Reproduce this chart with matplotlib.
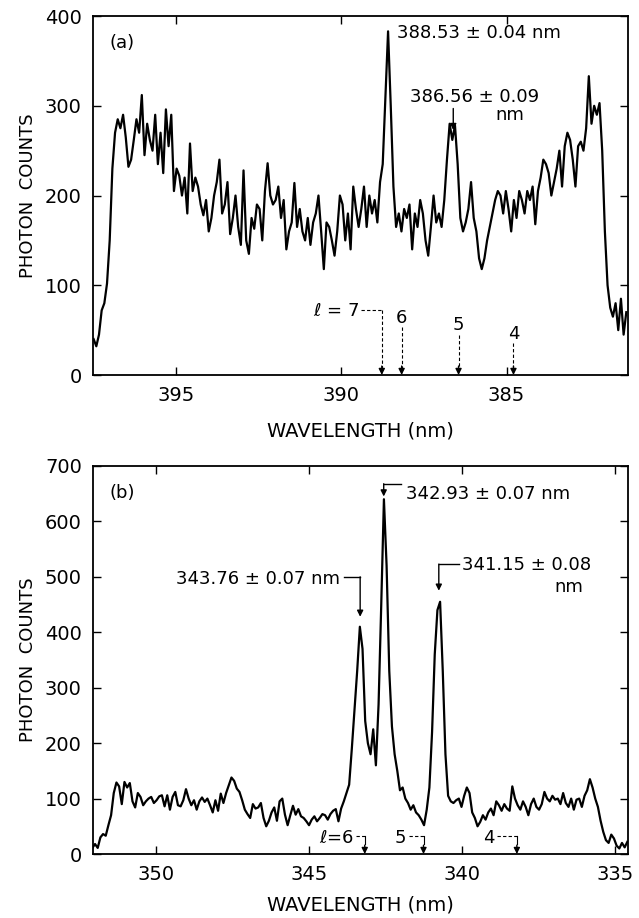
import numpy as np
import matplotlib
matplotlib.use('Agg')
import matplotlib.pyplot as plt

# ---- panel (a): 397.5 - 381.3 nm ----
wl_a_range = (397.48, 381.38)
counts_a = [40, 32, 45, 72, 80, 102, 150, 230, 270, 285, 275, 290, 265, 232, 240, 262, 285, 270, 312, 245,
            280, 262, 250, 290, 235, 270, 225, 296, 255, 290, 205, 230, 222, 200, 220, 180, 258, 205, 220, 210,
            190, 178, 195, 160, 175, 200, 215, 240, 180, 190, 215, 157, 175, 200, 165, 145, 228, 150, 135, 175,
            163, 190, 185, 150, 205, 236, 200, 190, 195, 210, 175, 195, 140, 160, 170, 214, 165, 185, 160, 150,
            175, 145, 170, 180, 200, 160, 118, 170, 165, 150, 133, 160, 200, 190, 150, 180, 140, 210, 185, 165,
            185, 210, 165, 200, 180, 195, 170, 215, 235, 310, 383, 300, 210, 165, 180, 160, 185, 175, 190, 140,
            180, 165, 195, 180, 150, 133, 165, 200, 170, 180, 165, 195, 240, 280, 262, 278, 235, 175, 160, 170,
            185, 215, 175, 160, 130, 118, 130, 150, 165, 180, 195, 205, 200, 180, 205, 185, 160, 195, 175, 205,
            195, 180, 205, 195, 210, 168, 205, 220, 240, 235, 225, 200, 215, 230, 250, 210, 255, 270, 262, 240,
            210, 255, 260, 250, 275, 333, 280, 300, 290, 303, 250, 160, 100, 75, 65, 80, 50, 85, 45, 70]
xlim_a = (397.5, 381.33)
xticks_a = [395, 390, 385]
yticks_a = [0, 100, 200, 300, 400]

# ---- panel (b): 352.1 - 334.6 nm ----
wl_b_range = (352.08, 334.6)
counts_b = [11, 18, 11, 30, 36, 33, 52, 70, 110, 129, 122, 90, 130, 120, 128, 95, 84, 110, 103, 88,
            95, 100, 103, 92, 97, 104, 106, 86, 106, 80, 103, 112, 88, 86, 97, 117, 100, 88, 97, 80,
            95, 102, 94, 100, 88, 75, 97, 78, 109, 92, 110, 124, 138, 132, 118, 112, 97, 80, 72, 65,
            90, 82, 84, 92, 65, 50, 60, 75, 84, 60, 95, 100, 71, 52, 70, 87, 71, 81, 68, 65,
            59, 52, 62, 68, 59, 65, 72, 70, 62, 72, 78, 81, 59, 82, 95, 110, 125, 190, 260, 330,
            410, 370, 240, 200, 180, 225, 160, 270, 450, 640, 520, 330, 230, 180, 150, 115, 120, 100, 92, 80,
            88, 75, 70, 62, 52, 80, 120, 220, 360, 440, 455, 330, 180, 105, 95, 92, 97, 100, 85, 105,
            120, 110, 75, 65, 50, 58, 70, 62, 75, 82, 70, 95, 88, 78, 90, 82, 78, 122, 100, 88,
            80, 95, 85, 70, 90, 100, 85, 80, 90, 112, 100, 95, 105, 98, 100, 90, 110, 92, 85, 100,
            80, 98, 100, 85, 105, 115, 135, 120, 100, 85, 60, 40, 25, 20, 35, 28, 15, 10, 20, 12, 22]
xlim_b = (352.06, 334.58)
xticks_b = [350, 345, 340, 335]
yticks_b = [0, 100, 200, 300, 400, 500, 600, 700]

# ell markers: (label, wavelength)
ell_a = [('7', 388.77), ('6', 388.17), ('5', 386.45), ('4', 384.79)]
ell_b = [('6', 343.18), ('5', 341.26), ('4', 338.21)]

plt.rcParams['font.family'] = 'DejaVu Sans'
fig = plt.figure(figsize=(6.39, 9.18), dpi=100)
ax1 = fig.add_axes([0.1455, 0.5915, 0.8372, 0.391])
ax2 = fig.add_axes([0.1455, 0.0697, 0.8372, 0.4227])

wl_a = np.linspace(wl_a_range[0], wl_a_range[1], len(counts_a))
wl_b = np.linspace(wl_b_range[0], wl_b_range[1], len(counts_b))
ax1.plot(wl_a, counts_a, color='k', lw=1.6)
ax2.plot(wl_b, counts_b, color='k', lw=1.6)

for ax, xl, xt, yt, yl, lp in [(ax1, xlim_a, xticks_a, yticks_a, 400, 12),
                               (ax2, xlim_b, xticks_b, yticks_b, 700, 8)]:
    ax.set_xlim(*xl)
    ax.set_ylim(0, yl)
    ax.set_xticks(xt)
    ax.set_yticks(yt)
    ax.tick_params(direction='in', top=True, right=True, length=6, width=1, labelsize=14, pad=8)
    ax.set_xlabel('WAVELENGTH (nm)', fontsize=14, labelpad=lp)
    ax.set_ylabel('PHOTON  COUNTS', fontsize=13, labelpad=6)
    for s in ax.spines.values():
        s.set_linewidth(1.3)

ax1.text(0.03, 0.925, '(a)', transform=ax1.transAxes, fontsize=13, va='center')
ax2.text(0.03, 0.93, '(b)', transform=ax2.transAxes, fontsize=13, va='center')

head = dict(arrowstyle='-|>', color='k', lw=1.0, mutation_scale=9, shrinkA=0, shrinkB=0)

# panel (a) peak labels
ax1.text(388.31, 381, '388.53 \u00b1 0.04 nm', fontsize=13, va='center', ha='left')
ax1.text(387.93, 310, '386.56 \u00b1 0.09', fontsize=13, va='center', ha='left')
ax1.text(384.91, 290, 'nm', fontsize=13, va='center', ha='center')
ax1.annotate('', xy=(386.61, 273), xytext=(386.61, 297), arrowprops=head)

# panel (a) ell markers
ell_y_a = {'7': (71, 72), '6': (63, 54), '5': (56, 45), '4': (46, 36)}
for lab, w in ell_a:
    ty, ly = ell_y_a[lab]
    if lab == '7':
        ax1.text(389.44, ty, '$\\ell$ = 7', fontsize=13, va='center', ha='right')
        ax1.plot([389.4, w], [ly, ly], color='k', lw=0.8, ls=(0, (3, 2)))
    else:
        ax1.text(w, ty, lab, fontsize=13, va='center', ha='center')
    ax1.plot([w, w], [ly, 8], color='k', lw=0.8, ls=(0, (3, 2)))
    ax1.annotate('', xy=(w, 0), xytext=(w, 10), arrowprops=head)

# panel (b) peak labels
ax2.text(341.82, 650, '342.93 \u00b1 0.07 nm', fontsize=13, va='center', ha='left')
ax2.plot([342.56, 342.0], [668, 668], color='k', lw=1)
ax2.annotate('', xy=(342.56, 645), xytext=(342.56, 668), arrowprops=head)

ax2.text(340.0, 521, '341.15 \u00b1 0.08', fontsize=13, va='center', ha='left')
ax2.text(336.5, 481, 'nm', fontsize=13, va='center', ha='center')
ax2.plot([340.76, 340.1], [523, 523], color='k', lw=1)
ax2.annotate('', xy=(340.76, 475), xytext=(340.76, 523), arrowprops=head)

ax2.text(344.0, 497, '343.76 \u00b1 0.07 nm', fontsize=13, va='center', ha='right')
ax2.plot([343.85, 343.33], [500, 500], color='k', lw=1)
ax2.annotate('', xy=(343.33, 428), xytext=(343.33, 500), arrowprops=head)

# panel (b) ell markers
ell_text_b = {'6': (343.53, '$\\ell$=6'), '5': (341.82, '5'), '4': (338.94, '4')}
for lab, w in ell_b:
    tx, s = ell_text_b[lab]
    ax2.text(tx, 28, s, fontsize=13, va='center', ha='right')
    ax2.plot([tx - 0.08, w], [32, 32], color='k', lw=0.8, ls=(0, (3, 2)))
    ax2.plot([w, w], [32, 18], color='k', lw=0.8)
    ax2.annotate('', xy=(w, 0), xytext=(w, 16), arrowprops=head)

fig.savefig('out.png', dpi=100)
